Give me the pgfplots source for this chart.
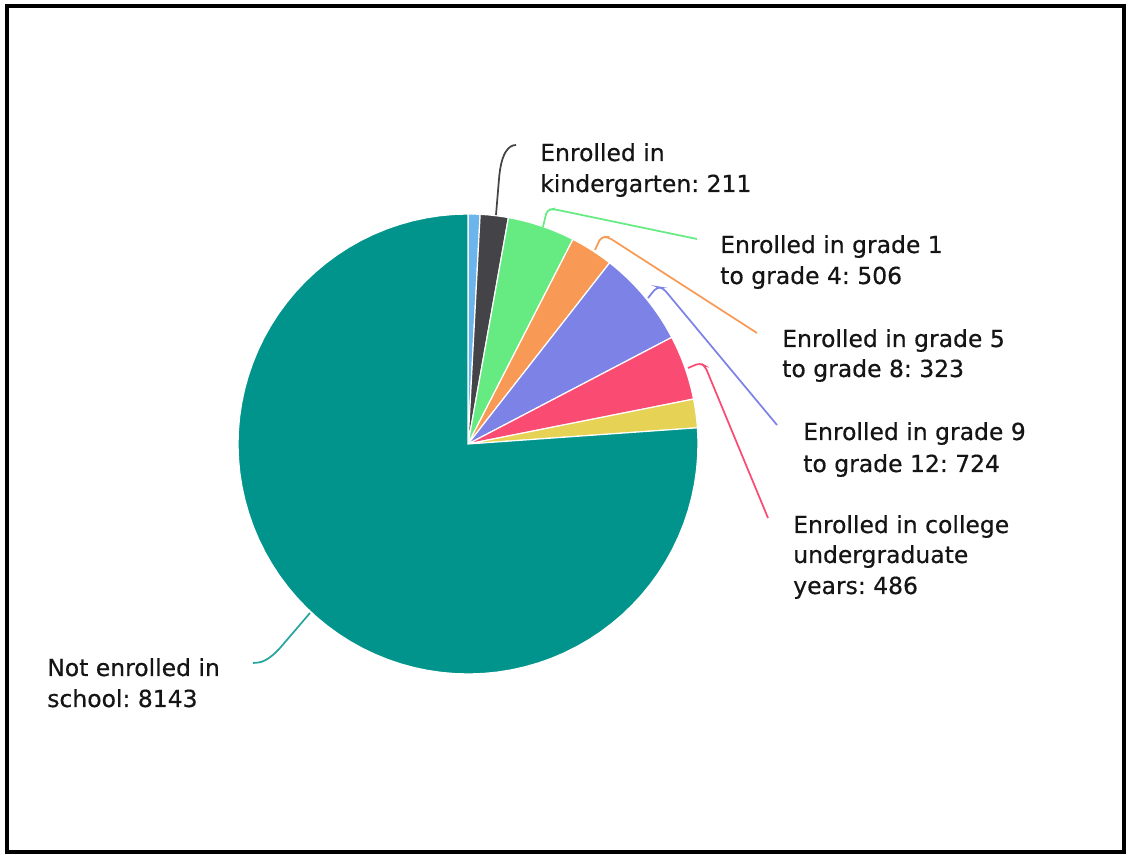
\documentclass[border=0pt]{standalone}
\usepackage{pgfplots}
\usepackage{pgfplotstable}
\pgfplotsset{compat=1.18}
\usepackage{fontspec}
\setmainfont{DejaVu Sans}
\newfontfamily\labfont{DejaVu Sans}[FakeBold=0.5]
\frenchspacing

\definecolor{cNur}{HTML}{6CB4EC}
\definecolor{cKin}{HTML}{434348}
\definecolor{cG14}{HTML}{66EB82}
\definecolor{cG58}{HTML}{F89A55}
\definecolor{cG912}{HTML}{7D83E6}
\definecolor{cCol}{HTML}{FA4B73}
\definecolor{cGrad}{HTML}{E6D255}
\definecolor{cNot}{HTML}{00948C}
\definecolor{txt}{HTML}{151515}

% slice values, clockwise from 12 o'clock
\pgfplotstableread{
value
90
211
506
323
724
486
215
8143
}\pietable

\pgfmathsetmacro\total{0}
\pgfplotsforeachungrouped \i in {0,...,7}{%
  \pgfplotstablegetelem{\i}{value}\of\pietable
  \pgfmathsetmacro\total{\total+\pgfplotsretval}%
}
\pgfmathsetmacro\cum{0}
\pgfplotsforeachungrouped \i in {0,...,7}{%
  \pgfplotstablegetelem{\i}{value}\of\pietable
  \expandafter\xdef\csname sa\i\endcsname{\cum}%
  \pgfmathsetmacro\cum{\cum+360*(\pgfplotsretval/\total)}%
  \expandafter\xdef\csname sb\i\endcsname{\cum}%
}

\newcommand\slice[2]{%
  \edef\tmpa{\csname sa#1\endcsname}\edef\tmpb{\csname sb#1\endcsname}%
  \addplot[fill=#2, draw=white, line width=0.9pt, domain=\tmpa:\tmpb, samples=80, variable=\t]
    ({468+230*sin(\t)}, {410+230*cos(\t)}) -- (axis cs:468,410) -- cycle;
}

\begin{document}
\begin{tikzpicture}[lab/.style={anchor=base west, text=txt, inner sep=0pt, font=\labfont\fontsize{17.6}{21}\selectfont}]
\begin{axis}[hide axis, x=0.75pt, y=0.75pt, xmin=0, xmax=1129, ymin=0, ymax=854,
  clip=false, anchor=origin, at={(0,0)}]
\path (axis cs:0,0) rectangle (axis cs:1129,854);
\draw[line width=3pt] (axis cs:7,2) rectangle (axis cs:1124,848);

\slice{0}{cNur}
\slice{1}{cKin}
\slice{2}{cG14}
\slice{3}{cG58}
\slice{4}{cG912}
\slice{5}{cCol}
\slice{6}{cGrad}
\slice{7}{cNot}

% leader lines
\draw[cKin, line width=1.3pt] (axis cs:496,639) -- (axis cs:499,675) .. controls (axis cs:501,700) and (axis cs:508,709) .. (axis cs:516,709);
\draw[cG14, line width=1.3pt, rounded corners=3pt] (axis cs:543,627) -- (axis cs:547,644) -- (axis cs:553,645) -- (axis cs:697,615);
\draw[cG58, line width=1.3pt, rounded corners=3pt] (axis cs:595,604) -- (axis cs:601,617) -- (axis cs:608,617) -- (axis cs:757,521);
\draw[cG912, line width=1.3pt, rounded corners=3pt] (axis cs:648,556) -- (axis cs:657,567) -- (axis cs:663,566) -- (axis cs:777,429);
\draw[cCol, line width=1.3pt, rounded corners=3pt] (axis cs:688,486) -- (axis cs:700,491) -- (axis cs:705,488) -- (axis cs:768,336);
\draw[cNot!85!white, line width=1.3pt] (axis cs:310,241) -- (axis cs:280,206) .. controls (axis cs:268,193) and (axis cs:261,191) .. (axis cs:253,191);

% labels
\node[lab] at (axis cs:540,693) {Enrolled in};
\node[lab] at (axis cs:540,662) {kindergarten: 211};
\node[lab] at (axis cs:720,601) {Enrolled in grade 1};
\node[lab] at (axis cs:720,570) {to grade 4: 506};
\node[lab] at (axis cs:782,507) {Enrolled in grade 5};
\node[lab] at (axis cs:782,477) {to grade 8: 323};
\node[lab] at (axis cs:803,414) {Enrolled in grade 9};
\node[lab] at (axis cs:803,382) {to grade 12: 724};
\node[lab] at (axis cs:793,321) {Enrolled in college};
\node[lab] at (axis cs:793,291) {undergraduate};
\node[lab] at (axis cs:793,260) {years: 486};
\node[lab] at (axis cs:47,178) {Not enrolled in};
\node[lab] at (axis cs:47,147) {school: 8143};
\end{axis}
\end{tikzpicture}
\end{document}
